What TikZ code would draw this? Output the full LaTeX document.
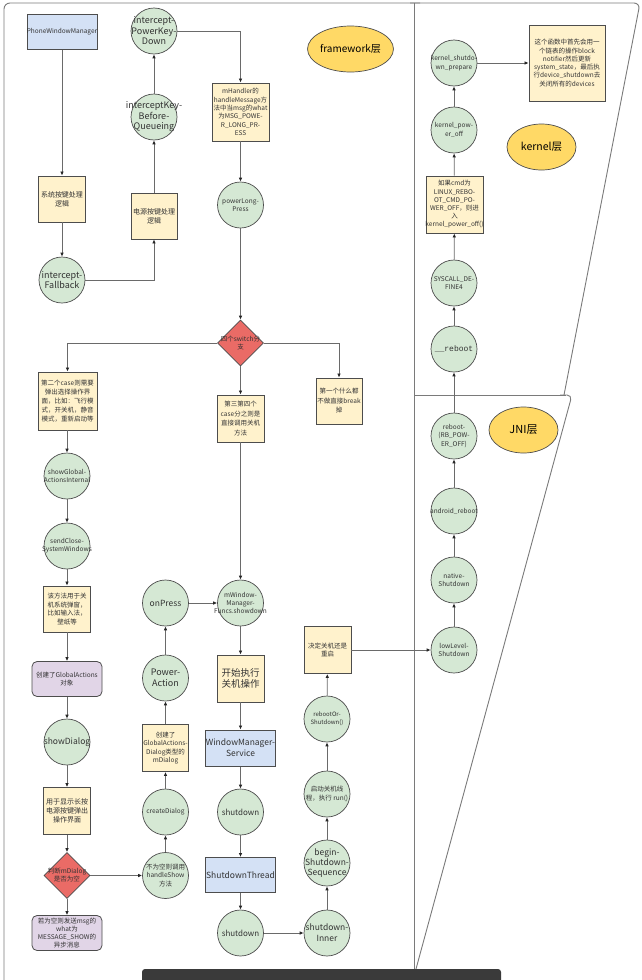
\documentclass[tikz,border=0pt]{standalone}
\usepackage{fontspec}
\setmainfont{Noto Sans CJK SC}
\newfontfamily\monof{Liberation Mono}
\usetikzlibrary{shapes.geometric,arrows.meta}
\definecolor{cgreen}{HTML}{D5E8D4}
\definecolor{cyellow}{HTML}{FFF2CC}
\definecolor{cblue}{HTML}{D4E1F5}
\definecolor{cpurple}{HTML}{E1D5E7}
\definecolor{cred}{HTML}{EA6B66}
\definecolor{cgold}{HTML}{FFD966}
\definecolor{cdraw}{HTML}{4D4D4D}
\definecolor{cedge}{HTML}{6A6A6A}
\definecolor{ctext}{HTML}{333333}
\definecolor{cpanel}{HTML}{7A7A7A}
\definecolor{cbar}{HTML}{3A3A3A}
\newcommand\fz[2]{\fontsize{#1}{#2}\selectfont}
% shape node + separate centred text node
\newcommand\nd[6]{\node[#1] (#2) at (#3) {};\node[tx, font=\fz{#4}{#5}] (#2t) at (#2.center) {#6};}
\tikzset{
  tx/.style={align=center, inner sep=0pt, text=ctext},
  circ/.style={circle, draw=cdraw, fill=cgreen, line width=0.7pt, minimum size=46pt, inner sep=0pt},
  ybox/.style={rectangle, draw=cdraw, fill=cyellow, line width=0.9pt, inner sep=0pt},
  bbox/.style={rectangle, draw=cdraw, fill=cblue, line width=1pt, inner sep=0pt, minimum width=70pt, minimum height=35pt},
  pbox/.style={rectangle, rounded corners=5pt, draw=cdraw, fill=cpurple, line width=0.8pt, inner sep=0pt, minimum width=70pt, minimum height=35pt},
  dia/.style={diamond, draw=cdraw, fill=cred, line width=0.7pt, inner sep=0pt, minimum width=46pt, minimum height=46pt},
  ell/.style={ellipse, draw=cdraw, fill=cgold, line width=0.7pt, inner sep=0pt, minimum width=69pt, minimum height=46pt},
  arr/.style={draw=cedge, line width=0.8pt, -{Latex[length=4pt,width=3.6pt,color=black!85]}},
  panel/.style={draw=cpanel, line width=0.9pt},
}
\begin{document}
\begin{tikzpicture}[x=1pt, y=-1pt]
\useasboundingbox (0,0) rectangle (641,980);
\fill[white] (0,0) rectangle (641,980);
% ---------- panels ----------
\draw[panel, rounded corners=6pt] (4,980) -- (4,3) -- (420,3);
\draw[panel] (414,3) -- (414,980);
\draw[panel, rounded corners=6pt] (410,3) -- (640,3) -- (564,395);
\draw[panel] (414,395) -- (566,395);
\draw[panel, rounded corners=5pt] (560,395) -- (572,395) -- (413,980);
% ---------- layer labels ----------
\node[ell, font=\fz{10}{12}] (lfw) at (350.5,49) {framework层};
\node[ell, font=\fz{10.5}{12}] (lkn) at (541.5,147) {kernel层};
\node[ell, font=\fz{11}{13}] (lji) at (523.5,430) {JNI层};
% ---------- framework: top left ----------
\nd{bbox}{pwm}{62,31.5}{6.5}{8}{PhoneWindowManager}
\nd{ybox, minimum width=47pt, minimum height=46pt}{sys}{62,199}{7}{9}{系统按键处理\\逻辑}
\nd{circ}{fb}{62,280}{9}{10.5}{intercept-\\Fallback}
\nd{ybox, minimum width=46pt, minimum height=46pt}{pb}{154,216}{7}{9}{电源按键处理\\逻辑}
\nd{circ}{ikbq}{154,117}{9}{10.5}{interceptKey-\\Before-\\Queueing}
\nd{circ}{ipkd}{154,31}{9}{10.5}{intercept-\\PowerKey-\\Down}
% ---------- framework: centre ----------
\nd{ybox, minimum width=57pt, minimum height=58pt}{mh}{240.5,112}{6.5}{8.3}{mHandler的\\handleMessage方\\法中当msg的what\\为MSG\_POWE-\\R\_LONG\_PR-\\ESS}
\nd{circ}{plp}{240.5,205}{6.5}{8}{powerLong-\\Press}
\nd{dia}{sw}{240.5,343}{6.5}{8}{四个switch分\\支}
\nd{ybox, minimum width=59pt, minimum height=58pt}{ctwo}{67.5,401}{6.5}{9.2}{第二个case则需要\\弹出选择操作界\\面，比如：飞行模\\式，开关机，静音\\模式，重新启动等}
\nd{ybox, minimum width=46pt, minimum height=46pt}{cone}{339,401}{6.5}{9.5}{第一个什么都\\不做直接break\\掉}
\nd{ybox, minimum width=47pt, minimum height=47pt}{cthr}{240.5,418.5}{6.5}{9.5}{第三第四个\\case分之则是\\直接调用关机\\方法}
% ---------- left column ----------
\nd{circ}{sgai}{67,476}{6.5}{8}{showGlobal-\\ActionsInternal}
\nd{circ}{scsw}{67,546}{6.5}{8}{sendClose-\\SystemWindows}
\nd{ybox, minimum width=47pt, minimum height=46pt}{gff}{67,609}{6.5}{8.6}{该方法用于关\\机系统弹窗，\\比如输入法，\\壁纸等}
\nd{pbox}{gao}{67,679}{6.5}{8.5}{创建了GlobalActions\\对象}
\nd{circ}{sdg}{67,742}{8.5}{10}{showDialog}
\nd{ybox, minimum width=47pt, minimum height=47pt}{yxs}{67,811}{7}{8.8}{用于显示长按\\电源按键弹出\\操作界面}
\nd{dia}{pdd}{67,875.5}{6.5}{8}{判断mDialog\\是否为空}
\nd{pbox}{rwk}{67,933}{6.5}{8}{若为空则发送msg的\\what为\\MESSAGE\_SHOW的\\异步消息}
% ---------- second column ----------
\nd{circ}{bwk}{165.5,875.5}{6.5}{8.5}{不为空则调用\\handleShow\\方法}
\nd{circ}{crd}{165.5,812}{6.5}{8}{createDialog}
\nd{ybox, minimum width=46pt, minimum height=47pt}{cgd}{165.5,748}{6.5}{8.3}{创建了\\GlobalActions-\\Dialog类型的\\mDialog}
\nd{circ}{pwa}{165.5,678}{9}{10.5}{Power-\\Action}
\nd{circ}{onp}{165.5,603}{8.5}{10}{onPress}
% ---------- centre column ----------
\nd{circ}{mwf}{240.5,603}{6.5}{8}{mWindow-\\Manager-\\Funcs.showdown}
\nd{ybox, minimum width=47pt, minimum height=47pt}{ksz}{240.5,678.5}{9.5}{11}{开始执行\\关机操作}
\nd{bbox, minimum height=36pt}{wms}{240.5,748}{8.5}{11}{WindowManager-\\Service}
\nd{circ}{sdo}{240.5,812}{8}{10}{shutdown}
\nd{bbox}{sdt}{240.5,875}{8.5}{10}{ShutdownThread}
\nd{circ}{sdw}{240.5,933}{8}{10}{shutdown}
% ---------- shutdown column ----------
\nd{circ}{sdi}{327,933}{8.5}{11}{shutdown-\\Inner}
\nd{circ}{bss}{327,863}{8.5}{10}{begin-\\Shutdown-\\Sequence}
\nd{circ}{qdx}{327,794}{6.5}{9}{启动关机线\\程，执行 run()}
\nd{circ}{ros}{327,719}{6}{8}{rebootOr-\\Shutdown()}
\nd{ybox, minimum width=47pt, minimum height=47pt}{jdg}{327.5,650}{6.5}{8.5}{决定关机还是\\重启}
% ---------- JNI / kernel column ----------
\nd{circ}{lls}{454,650}{6.5}{8.5}{lowLevel-\\Shutdown}
\nd{circ}{nsd}{454,580}{6.5}{8.5}{native-\\Shutdown}
\nd{circ}{arb}{454,511}{6.5}{8}{android\_reboot}
\nd{circ}{rbt}{454,436}{6.5}{8.3}{reboot-\\(RB\_POW-\\ER\_OFF)}
\nd{circ}{urb}{454,349}{8}{9}{\monof \_\_reboot}
\nd{circ}{scd}{454,283}{6.5}{8.5}{SYSCALL\_DE-\\FINE4}
\nd{ybox, minimum width=57pt, minimum height=57pt}{ifc}{454.5,204.5}{6.5}{8.2}{如果cmd为\\LINUX\_REBO-\\OT\_CMD\_PO-\\WER\_OFF，则进\\入\\kernel\_power\_off()}
\nd{circ}{kpo}{454,130}{6.5}{8.5}{kernel\_pow-\\er\_off}
\nd{circ}{ksp}{454,63}{6.5}{8.5}{kernel\_shutdo-\\wn\_prepare}
\nd{ybox, minimum width=76pt, minimum height=76pt}{nte}{567,63}{6.5}{8.3}{这个函数中首先会用一\\个链表的操作block\\notifier然后更新\\system\_state，最后执\\行device\_shutdown去\\关闭所有的devices}
% ---------- connectors ----------
\draw[arr] (pwm) -- (sys);
\draw[arr] (sys) -- (fb);
\draw[arr] (fb.east) -| (pb.south);
\draw[arr] (pb) -- (ikbq);
\draw[arr] (ikbq) -- (ipkd);
\draw[arr] (ipkd.east) -| (mh.north);
\draw[arr] (mh) -- (plp);
\draw[arr] (plp) -- (sw);
\draw[arr] (sw.west) -| (ctwo.north);
\draw[arr] (sw.east) -| (cone.north);
\draw[arr] (sw) -- (cthr);
\draw[arr] (ctwo.south -| sgai) -- (sgai);
\draw[arr] (sgai) -- (scsw);
\draw[arr] (scsw) -- (gff);
\draw[arr] (gff) -- (gao);
\draw[arr] (gao) -- (sdg);
\draw[arr] (sdg) -- (yxs);
\draw[arr] (yxs) -- (pdd);
\draw[arr] (pdd) -- (rwk);
\draw[arr] (pdd) -- (bwk);
\draw[arr] (bwk) -- (crd);
\draw[arr] (crd) -- (cgd);
\draw[arr] (cgd) -- (pwa);
\draw[arr] (pwa) -- (onp);
\draw[arr] (onp) -- (mwf);
\draw[arr] (cthr) -- (mwf);
\draw[arr] (mwf) -- (ksz);
\draw[arr] (ksz) -- (wms);
\draw[arr] (wms) -- (sdo);
\draw[arr] (sdo) -- (sdt);
\draw[arr] (sdt) -- (sdw);
\draw[arr] (sdw) -- (sdi);
\draw[arr] (sdi) -- (bss);
\draw[arr] (bss) -- (qdx);
\draw[arr] (qdx) -- (ros);
\draw[arr] (ros) -- (jdg);
\draw[arr] (jdg.east) -- (lls);
\draw[arr] (lls) -- (nsd);
\draw[arr] (nsd) -- (arb);
\draw[arr] (arb) -- (rbt);
\draw[arr] (rbt) -- (urb);
\draw[arr] (urb) -- (scd);
\draw[arr] (scd) -- (ifc);
\draw[arr] (ifc) -- (kpo);
\draw[arr] (kpo) -- (ksp);
\draw[arr] (ksp) -- (nte);
% ---------- bottom bar ----------
\fill[cbar, rounded corners=3pt] (142,969) rectangle (501,990);
\end{tikzpicture}
\end{document}
